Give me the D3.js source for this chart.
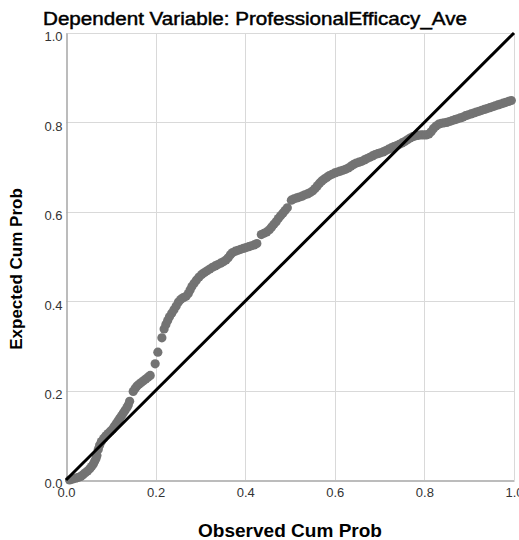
<!DOCTYPE html>
<html>
<head>
<meta charset="utf-8">
<script src="https://cdn.jsdelivr.net/npm/d3@7"></script>
<style>
  html, body { margin: 0; padding: 0; background: #fff; }
  svg { display: block; font-family: "Liberation Sans", Arial, sans-serif; }
</style>
</head>
<body>
<svg id="chart" width="519" height="540"></svg>
<script>
// Normal P-P plot of regression standardized residuals
const chartTitle = "Dependent Variable: ProfessionalEfficacy_Ave";
const xTitle = "Observed Cum Prob";
const yTitle = "Expected Cum Prob";
const tickValues = [0, 0.2, 0.4, 0.6, 0.8, 1.0];
const tickLabels = ["0.0", "0.2", "0.4", "0.6", "0.8", "1.0"];

const observedCumProb = [
  0.008, 0.015, 0.022, 0.028, 0.033, 0.038, 0.043, 0.048, 0.053, 0.057, 0.061, 0.064, 0.067, 0.069,
  0.072, 0.075, 0.079, 0.084, 0.089, 0.094, 0.099, 0.104, 0.108, 0.112, 0.116, 0.120, 0.124, 0.128, 0.132, 0.136, 0.139, 0.142,
  0.150, 0.154, 0.158, 0.163, 0.168, 0.173, 0.178, 0.183, 0.188,
  0.199, 0.205, 0.214, 0.219, 0.223, 0.227, 0.231, 0.236, 0.241, 0.246, 0.251, 0.256, 0.262, 0.268, 0.273, 0.277, 0.281,
  0.286, 0.291, 0.297, 0.303, 0.309, 0.315, 0.321, 0.327, 0.333, 0.339, 0.345, 0.351, 0.357, 0.362, 0.367, 0.372, 0.378,
  0.384, 0.390, 0.396, 0.402, 0.408, 0.414, 0.420, 0.426,
  0.436, 0.442, 0.448, 0.454, 0.459, 0.464, 0.469, 0.474, 0.479, 0.484, 0.489, 0.494,
  0.503, 0.509, 0.515, 0.521, 0.527, 0.533, 0.539, 0.545, 0.551, 0.556, 0.561, 0.566, 0.571, 0.576, 0.582, 0.588, 0.594,
  0.600, 0.606, 0.612, 0.618, 0.624, 0.630, 0.636, 0.642, 0.648, 0.654, 0.660, 0.666, 0.672, 0.678, 0.684, 0.690, 0.696,
  0.702, 0.708, 0.714, 0.720, 0.726, 0.732, 0.738, 0.744, 0.750, 0.756, 0.762, 0.768, 0.774, 0.780, 0.786, 0.792, 0.798,
  0.804, 0.810, 0.815, 0.820, 0.826, 0.832, 0.838, 0.844, 0.850, 0.856, 0.862, 0.868, 0.874, 0.880, 0.886, 0.892, 0.898,
  0.904, 0.910, 0.916, 0.922, 0.928, 0.934, 0.940, 0.946, 0.952, 0.958, 0.964, 0.970, 0.976, 0.982, 0.988, 0.994
];

const expectedCumProb = [
  0.000, 0.002, 0.004, 0.006, 0.008, 0.012, 0.016, 0.020, 0.025, 0.030, 0.036, 0.042, 0.048, 0.055,
  0.068, 0.078, 0.086, 0.093, 0.099, 0.104, 0.109, 0.114, 0.120, 0.126, 0.132, 0.138, 0.144, 0.150, 0.156, 0.162, 0.168, 0.176,
  0.198, 0.204, 0.210, 0.214, 0.218, 0.222, 0.226, 0.230, 0.234,
  0.260, 0.286, 0.318, 0.338, 0.348, 0.357, 0.365, 0.373, 0.381, 0.389, 0.398, 0.404, 0.408, 0.411, 0.417, 0.425, 0.433,
  0.440, 0.447, 0.454, 0.460, 0.464, 0.468, 0.472, 0.476, 0.479, 0.482, 0.485, 0.488, 0.492, 0.497, 0.504, 0.509, 0.512,
  0.514, 0.516, 0.518, 0.520, 0.522, 0.524, 0.526, 0.529,
  0.549, 0.552, 0.555, 0.560, 0.566, 0.572, 0.578, 0.585, 0.591, 0.597, 0.603, 0.609,
  0.626, 0.629, 0.631, 0.633, 0.635, 0.638, 0.640, 0.643, 0.647, 0.652, 0.658, 0.664, 0.669, 0.673, 0.677, 0.681, 0.684,
  0.687, 0.689, 0.691, 0.693, 0.695, 0.698, 0.702, 0.706, 0.709, 0.711, 0.713, 0.716, 0.719, 0.722, 0.725, 0.728, 0.730,
  0.732, 0.734, 0.737, 0.740, 0.743, 0.746, 0.748, 0.751, 0.754, 0.757, 0.761, 0.765, 0.768, 0.770, 0.771, 0.772, 0.772,
  0.772, 0.774, 0.779, 0.786, 0.792, 0.796, 0.798, 0.799, 0.800, 0.802, 0.804, 0.806, 0.808, 0.810, 0.812, 0.815, 0.817,
  0.819, 0.821, 0.823, 0.825, 0.827, 0.829, 0.831, 0.833, 0.835, 0.837, 0.839, 0.841, 0.843, 0.845, 0.847, 0.849
];

const svg = d3.select("#chart");

// Plot frame
const plotLeft = 66, plotRight = 514, plotTop = 33, plotBottom = 480;
const x = d3.scaleLinear().domain([0, 1]).range([plotLeft, plotRight]);
const y = d3.scaleLinear().domain([0, 1]).range([plotBottom, plotTop]);

// Grid lines
const grid = svg.append("g").attr("stroke", "#d9d9d9").attr("stroke-width", 1);
grid.selectAll("line.v").data(tickValues.slice(1)).join("line")
  .attr("class", "v")
  .attr("x1", d => Math.round(x(d)) + 0.5).attr("x2", d => Math.round(x(d)) + 0.5)
  .attr("y1", plotTop).attr("y2", plotBottom);
grid.selectAll("line.h").data(tickValues.slice(1)).join("line")
  .attr("class", "h")
  .attr("y1", d => Math.round(y(d)) + 0.5).attr("y2", d => Math.round(y(d)) + 0.5)
  .attr("x1", plotLeft).attr("x2", plotRight);

// Axes (no tick marks, just the baseline and labels)
const xAxis = d3.axisBottom(x).tickValues(tickValues).tickFormat((d, i) => tickLabels[i]).tickSize(0).tickPadding(9);
const yAxis = d3.axisLeft(y).tickValues(tickValues).tickFormat((d, i) => tickLabels[i]).tickSize(0).tickPadding(4);

const gx = svg.append("g").attr("transform", `translate(0,${plotBottom + 0.5})`).call(xAxis);
const gy = svg.append("g").attr("transform", `translate(${plotLeft + 0.5},0)`).call(yAxis);
[gx, gy].forEach(g => {
  g.select(".domain").attr("stroke", "#a6a6a6").attr("stroke-width", 1.5);
  g.selectAll("text").attr("fill", "#333").attr("font-size", 13)
    .attr("font-family", "'Liberation Sans', Arial, sans-serif");
});
gy.selectAll(".tick text").attr("dy", "0.6em");
gx.selectAll(".tick text").attr("dy", "0.55em");

// Points
svg.append("g").selectAll("circle")
  .data(observedCumProb.map((o, i) => [o, expectedCumProb[i]]))
  .join("circle")
  .attr("cx", d => x(d[0]))
  .attr("cy", d => y(d[1]))
  .attr("r", 4.6)
  .attr("fill", "#737373");

// Reference diagonal
svg.append("line")
  .attr("x1", x(0)).attr("y1", y(0))
  .attr("x2", x(1)).attr("y2", y(1))
  .attr("stroke", "#000").attr("stroke-width", 3);

// Titles
svg.append("text")
  .attr("x", 43).attr("y", 24.5)
  .attr("font-size", 17.5)
  .attr("textLength", 424).attr("lengthAdjust", "spacingAndGlyphs")
  .attr("fill", "#000")
  .attr("stroke", "#000").attr("stroke-width", 0.45)
  .text(chartTitle);

svg.append("text")
  .attr("x", 198).attr("y", 537)
  .attr("font-size", 17.5).attr("font-weight", "bold")
  .attr("textLength", 184).attr("lengthAdjust", "spacingAndGlyphs")
  .attr("fill", "#000")
  .text(xTitle);

svg.append("text")
  .attr("transform", "translate(22,269) rotate(-90)")
  .attr("text-anchor", "middle")
  .attr("font-size", 17).attr("font-weight", "bold")
  .attr("fill", "#000")
  .text(yTitle);
</script>
</body>
</html>
